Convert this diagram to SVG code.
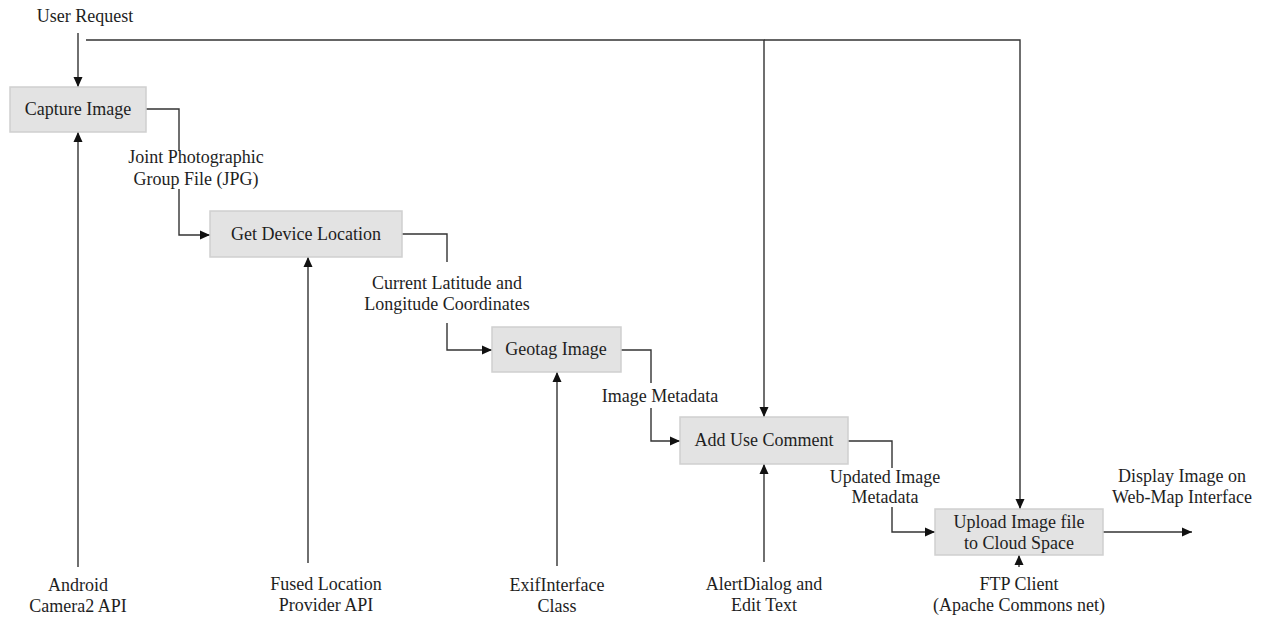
<svg xmlns="http://www.w3.org/2000/svg" width="1266" height="618" viewBox="0 0 1266 618">
  <style>
    .box { fill: #e3e3e3; stroke: #cfcfcf; stroke-width: 1.5; }
    .lbl { font-family: "Liberation Serif", "Times New Roman", serif; font-size: 18px; fill: #1e1e1e; text-anchor: middle; }
    .wire { fill: none; stroke: #333; stroke-width: 1.4; }
    .arr { marker-end: url(#head); }
  </style>
  <defs>
    <marker id="head" viewBox="0 0 10 10" refX="10" refY="5" markerWidth="10" markerHeight="10" markerUnits="userSpaceOnUse" orient="auto">
      <path d="M0,0.5 L10,5 L0,9.5 Z" fill="#111"/>
    </marker>
  </defs>

  <rect width="1266" height="618" fill="#fff"/>

  <!-- connectors -->
  <g id="connectors">
    <!-- user request -->
    <path class="wire arr" d="M78,33 V87"/>
    <path class="wire arr" d="M86,40 H764 V417"/>
    <path class="wire arr" d="M764,40 H1020 V509"/>
    <!-- main chain -->
    <path class="wire" d="M146,109 H179 V151"/>
    <path class="wire arr" d="M179,189 V235 H210"/>
    <path class="wire" d="M402,234 H447 V262"/>
    <path class="wire arr" d="M447,323 V350 H492"/>
    <path class="wire" d="M621,350 H651 V383"/>
    <path class="wire arr" d="M651,408 V441 H680"/>
    <path class="wire" d="M848,441 H892 V468"/>
    <path class="wire arr" d="M892,507 V532 H935"/>
    <path class="wire arr" d="M1103,532 H1192"/>
    <!-- supporting components -->
    <path class="wire arr" d="M78,567 V132"/>
    <path class="wire arr" d="M308,563 V257"/>
    <path class="wire arr" d="M557,566 V372"/>
    <path class="wire arr" d="M764,562 V464"/>
    <path class="wire arr" d="M1019,567 V555"/>
  </g>

  <!-- process nodes -->
  <g id="capture-image">
    <rect class="box" x="10" y="87" width="136" height="45"/>
    <text class="lbl" x="78" y="115">Capture Image</text>
  </g>
  <g id="get-device-location">
    <rect class="box" x="210" y="211" width="192" height="46"/>
    <text class="lbl" x="306" y="240">Get Device Location</text>
  </g>
  <g id="geotag-image">
    <rect class="box" x="492" y="327" width="129" height="45"/>
    <text class="lbl" x="556" y="355">Geotag Image</text>
  </g>
  <g id="add-use-comment">
    <rect class="box" x="680" y="417" width="168" height="47"/>
    <text class="lbl" x="764" y="446">Add Use Comment</text>
  </g>
  <g id="upload-image">
    <rect class="box" x="935" y="509" width="168" height="46"/>
    <text class="lbl" x="1019" y="528">Upload Image file</text>
    <text class="lbl" x="1019" y="549">to Cloud Space</text>
  </g>

  <!-- data labels -->
  <g id="labels">
    <text class="lbl" x="85" y="22">User Request</text>
    <text class="lbl" x="196" y="163">Joint Photographic</text>
    <text class="lbl" x="196" y="185">Group File (JPG)</text>
    <text class="lbl" x="447" y="289">Current Latitude and</text>
    <text class="lbl" x="447" y="310">Longitude Coordinates</text>
    <text class="lbl" x="660" y="402">Image Metadata</text>
    <text class="lbl" x="885" y="483">Updated Image</text>
    <text class="lbl" x="885" y="503">Metadata</text>
    <text class="lbl" x="1182" y="482">Display Image on</text>
    <text class="lbl" x="1182" y="503">Web-Map Interface</text>
  </g>

  <!-- supporting components -->
  <g id="camera2-api">
    <text class="lbl" x="78" y="591">Android</text>
    <text class="lbl" x="78" y="612">Camera2 API</text>
  </g>
  <g id="fused-location">
    <text class="lbl" x="326" y="590">Fused Location</text>
    <text class="lbl" x="326" y="611">Provider API</text>
  </g>
  <g id="exif-interface">
    <text class="lbl" x="557" y="591">ExifInterface</text>
    <text class="lbl" x="557" y="612">Class</text>
  </g>
  <g id="alert-dialog">
    <text class="lbl" x="764" y="590">AlertDialog and</text>
    <text class="lbl" x="764" y="611">Edit Text</text>
  </g>
  <g id="ftp-client">
    <text class="lbl" x="1019" y="590">FTP Client</text>
    <text class="lbl" x="1019" y="611">(Apache Commons net)</text>
  </g>
</svg>
